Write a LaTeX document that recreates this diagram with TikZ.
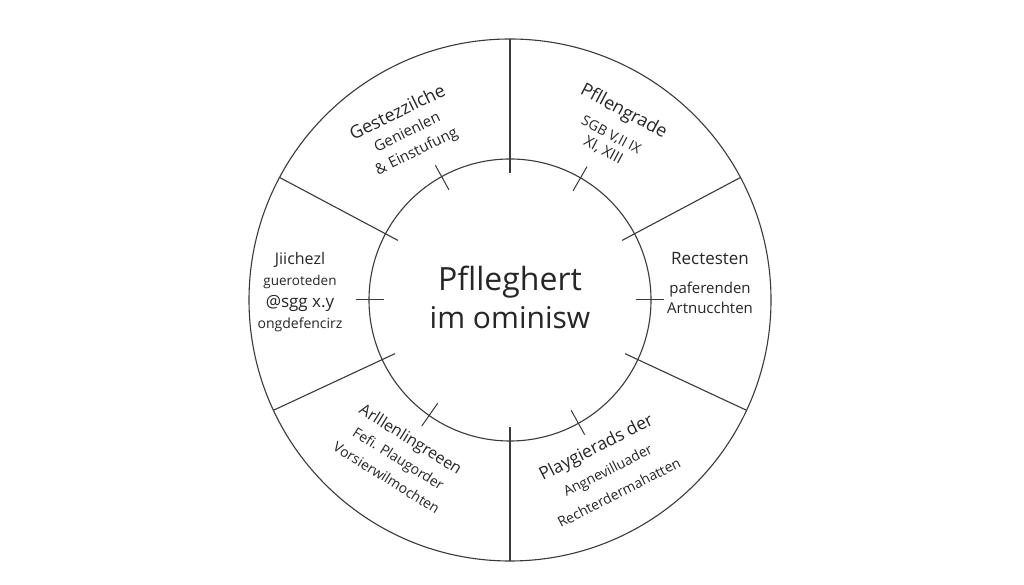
\documentclass[tikz,border=0pt]{standalone}
\usepackage{fontspec}
\setmainfont{Open Sans}
\usetikzlibrary{calc}
\definecolor{ink}{HTML}{262626}
\definecolor{pen}{HTML}{3A3A3A}
\tikzset{
  ring/.style={circle, draw=pen, line width=1.1pt, inner sep=0pt, outer sep=0pt},
  divider/.style={draw=pen, line width=1.1pt},
  tick/.style={draw=pen, line width=1pt},
  lbl/.style={text=ink, inner sep=0pt, align=center, font=\fontsize{14}{#1}\selectfont},
}
\newcommand{\fs}[1]{\fontsize{#1}{#1}\selectfont}
\begin{document}
\begin{tikzpicture}[x=1pt,y=1pt]
\useasboundingbox[fill=white] (0,0) rectangle (1024,585);
\coordinate (C) at (510,285);
\node[ring, minimum size=522pt] (outer) at (C) {};
\node[ring, minimum size=282pt] (inner) at (C) {};
% dividers
\foreach \a in {90,28,335,270,205,152}{
  \draw[divider] ($(C)+(\a:127)$) -- (outer.\a);
}
% ticks on inner circle
\foreach \a in {119,60,0,299,235,180}{
  \draw[tick] ($(C)+(\a:126)$) -- ($(C)+(\a:154)$);
}
% centre
\node[lbl=38] (centre) at (510,288) {{\fs{32}Pflleghert}\\{\fs{30}im ominisw}};
% top-left sector
\node[lbl=21, rotate=26] (tl) at (407,453) {{\fs{18}Gestezzilche}\\{\fs{15}Genienlen}\\{\fs{15}\& Einstufung}};
% top-right sector
\node[lbl=17, rotate=-28] (tr) at (614,455) {{\fs{18}Pfllengrade}\\[9pt]{\fs{14}SGB V,II IX}\\{\fs{15}XI, XIII}};
% right sector
\node[lbl=20] (rt) at (710,302) {{\fs{17}Rectesten}\\[9pt]{\fs{15}paferenden}\\{\fs{15}Artnucchten}};
% left sector
\node[lbl=21.5] (lt) at (300,293) {{\fs{16}Jiichezl}\\{\fs{13.5}gueroteden}\\{\fs{17}@sgg x.y}\\{\fs{14}ongdefencirz}};
% bottom-left sector
\node[lbl=22.5, rotate=-32] (bl) at (399,127) {{\fs{16}Arlllenlingreeen}\\{\fs{14}Fefi. Plaugorder}\\{\fs{14}Vorsierwilmochten}};
% bottom-right sector
\node[lbl=25, rotate=27] (br) at (607,116) {{\fs{17.5}Playgierads der}\\{\fs{14}Angnevilluader}\\{\fs{14}Rechterdermahatten}};
\end{tikzpicture}
\end{document}
